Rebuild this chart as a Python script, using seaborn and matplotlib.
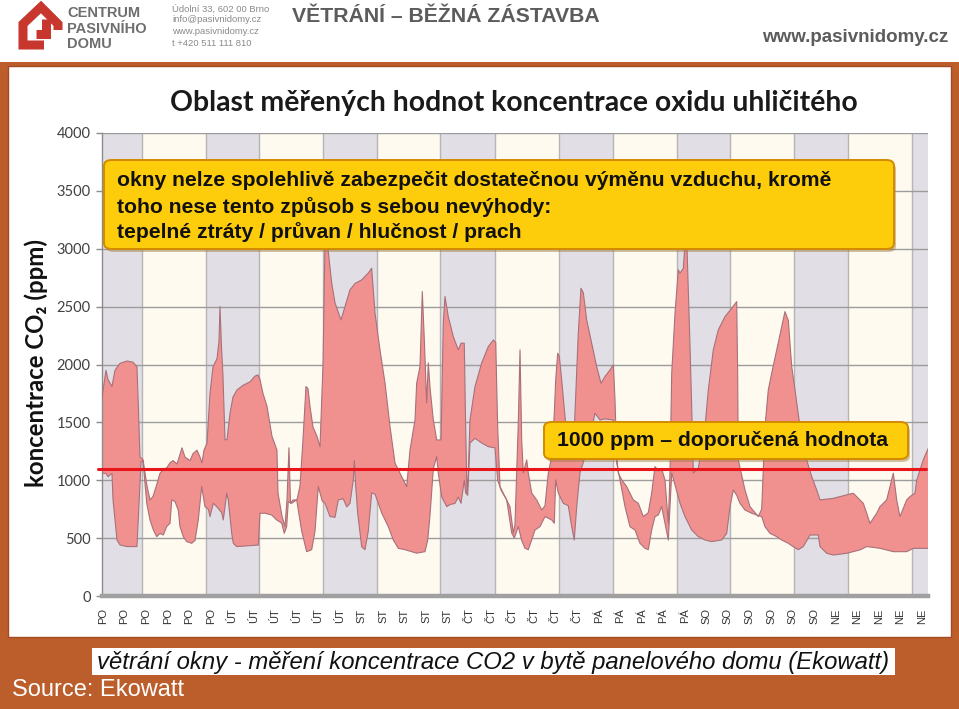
import numpy as np
import pandas as pd
import matplotlib
matplotlib.use("Agg")
import matplotlib.pyplot as plt
import seaborn as sns
from matplotlib.patches import FancyBboxPatch, Rectangle
from matplotlib.lines import Line2D

# ---------------- data ----------------
upper_hours = [0.0, 0.87, 1.28, 2.09, 2.70, 3.72, 5.14, 6.36, 7.17, 7.48, 7.78, 8.39, 9.21, 9.82,
               10.43, 11.24, 11.85, 12.46, 13.27, 13.88, 14.49, 15.31, 16.32, 16.93, 17.95, 18.56,
               19.37, 19.98, 20.38, 20.79, 21.40, 22.01, 22.62, 23.43, 23.84, 24.04, 24.35, 24.65,
               25.06, 25.47, 26.08, 26.69, 27.50, 28.72, 30.14, 31.16, 31.77, 32.17, 32.78, 33.59,
               34.61, 35.62, 35.83, 36.64, 37.25, 37.66, 38.06, 38.37, 38.88, 39.69, 40.30, 40.91,
               41.52, 41.93, 42.33, 42.94, 43.76, 44.37, 44.98, 45.38, 45.99, 46.75, 47.42, 48.64,
               49.45, 50.46, 51.48, 52.84, 54.18, 54.87, 55.55, 56.56, 57.58, 58.60, 59.61, 60.97,
               61.99, 62.66, 63.68, 64.02, 64.69, 65.16, 65.57, 66.05, 66.38, 66.73, 67.40, 68.09,
               68.96, 69.43, 69.77, 70.44, 71.46, 72.48, 73.03, 73.69, 73.98, 74.24, 74.51, 74.85,
               75.87, 77.23, 78.57, 79.59, 80.08, 80.48, 80.95, 81.97, 82.98, 83.65, 84.00, 84.67,
               85.02, 85.36, 85.69, 86.38, 86.70, 87.39, 88.41, 89.43, 90.10, 90.77, 91.46, 91.99,
               92.27, 92.68, 93.00, 93.49, 94.16, 94.83, 95.85, 96.19, 96.86, 97.41, 97.88, 98.57,
               99.59, 100.60, 101.48, 102.29, 103.31, 103.98, 104.32, 104.67, 104.99, 105.69,
               106.70, 108.04, 109.06, 110.08, 111.09, 111.78, 112.45, 113.12, 113.81, 114.48,
               115.16, 115.50, 115.85, 116.52, 117.19, 117.54, 118.21, 118.55, 118.86, 119.22,
               119.57, 119.91, 120.24, 121.25, 122.62, 123.29, 124.30, 125.32, 126.68, 128.04,
               129.06, 129.26, 129.38, 130.74, 131.76, 133.45, 134.14, 134.81, 135.48, 136.17,
               137.19, 138.20, 138.87, 139.55, 140.24, 140.91, 141.92, 143.28, 144.30, 145.32,
               145.99, 148.69, 151.41, 152.75, 154.12, 154.79, 155.48, 156.15, 157.51, 158.18,
               159.54, 160.21, 160.89, 161.58, 162.24, 163.61, 164.28, 165.29, 165.64, 166.31,
               166.98, 168.0]
upper_ppm = [1700, 1950, 1870, 1810, 1950, 2010, 2030, 2020, 1980, 1600, 1200, 1180, 950, 830,
             860, 970, 1060, 1090, 1110, 1150, 1170, 1140, 1280, 1200, 1170, 1230,
             1260, 1200, 1150, 1260, 1320, 1750, 1980, 2050, 2200, 2500, 2150, 1900,
             1350, 1350, 1580, 1720, 1780, 1820, 1850, 1900, 1910, 1870, 1750, 1640,
             1380, 1260, 890, 690, 600, 830, 1280, 800, 830, 830, 950, 1350,
             1810, 1790, 1640, 1460, 1380, 1290, 2000, 3050, 3000, 2702, 2532, 2385,
             2500, 2645, 2700, 2731, 2790, 2832, 2443, 2126, 1840, 1463, 1149, 1031,
             945, 1262, 1521, 1840, 1982, 2630, 2212, 1668, 2014, 1800, 1521, 1348,
             1348, 2357, 2587, 2414, 2241, 2126, 2184, 2184, 1435, 890, 1050, 1521,
             1809, 2014, 2155, 2212, 2190, 1463, 945, 858, 772, 544, 620, 1495,
             2126, 1348, 1063, 1176, 1063, 890, 830, 743, 780, 1063, 1204, 1579,
             1867, 2097, 2070, 1867, 1550, 1236, 1180, 1579, 2270, 2659, 2620, 2385,
             2184, 1982, 1838, 1896, 1953, 1997, 1700, 1204, 1063, 1003,
             945, 830, 801, 686, 720, 890, 1118, 1080, 1100, 1003,
             628, 1063, 1924, 2442, 2817, 2790, 2830, 3050, 3150, 2645,
             2155, 1636, 1063, 1100, 1463, 1780, 2126, 2299, 2414, 2486,
             2543, 1900, 1176, 916, 772, 686, 750, 1463, 1780, 1924,
             2126, 2327, 2457, 2380, 1982, 1780, 1464, 1176, 1032, 916,
             830, 844, 873, 888, 830, 801, 715, 628, 715, 772,
             830, 945, 1061, 830, 686, 830, 859, 888, 1000, 1089,
             1176, 1277]

lower_hours = [0.0, 0.87, 1.28, 2.09, 2.30, 2.70, 3.11, 3.72, 5.14, 7.17, 7.48, 7.99, 8.39, 9.15,
               9.82, 10.49, 11.18, 11.85, 12.52, 13.21, 13.88, 14.23, 14.90, 15.57, 15.91, 16.58,
               17.28, 18.29, 18.96, 19.63, 20.32, 20.65, 20.99, 21.67, 22.01, 22.68, 23.37, 24.39,
               24.71, 25.41, 25.73, 26.42, 26.75, 27.44, 31.83, 32.17, 33.19, 34.55, 35.57, 36.58,
               37.11, 37.60, 37.92, 38.62, 39.63, 40.65, 41.66, 42.68, 43.35, 44.02, 44.83, 45.38,
               46.40, 47.42, 48.09, 49.10, 49.79, 50.46, 51.14, 51.34, 51.62, 52.03, 52.84, 53.51,
               54.18, 54.87, 55.55, 56.91, 58.25, 59.27, 60.28, 61.64, 63.00, 64.02, 65.71, 66.26,
               66.73, 67.40, 68.09, 68.41, 69.10, 70.12, 70.79, 71.80, 72.48, 73.03, 73.69, 73.98,
               74.39, 74.85, 75.87, 77.23, 78.57, 79.93, 80.48, 81.15, 82.31, 83.33, 83.86, 84.67,
               85.36, 86.03, 86.70, 87.39, 88.06, 89.08, 90.10, 91.46, 91.99, 92.27, 92.80, 93.81,
               94.83, 95.52, 96.05, 96.54, 97.21, 98.23, 99.24, 100.26, 101.28, 102.29, 103.98,
               104.67, 105.34, 106.36, 107.37, 108.39, 109.40, 110.42, 111.09, 111.78, 112.45,
               113.12, 113.81, 114.48, 115.16, 115.85, 116.52, 117.54, 118.55, 119.91, 121.25,
               122.62, 123.98, 126.01, 127.03, 127.70, 128.37, 129.06, 129.73, 130.74, 132.10,
               134.14, 134.81, 135.83, 137.19, 138.20, 139.55, 140.56, 141.58, 142.59, 143.96,
               145.64, 145.99, 147.35, 148.69, 151.41, 154.12, 155.48, 158.18, 160.89, 163.61,
               164.97, 168.0]
lower_ppm = [1060, 1060, 1030, 1060, 830, 657, 484, 441, 427, 427, 700, 1160, 1170, 801,
             657, 571, 513, 540, 527, 600, 628, 830, 816, 740, 600, 513,
             470, 455, 480, 657, 945, 859, 772, 750, 686, 801, 772, 720,
             657, 888, 830, 542, 455, 427, 440, 715, 715, 700, 657, 630,
             542, 600, 815, 801, 830, 560, 383, 400, 560, 945, 820, 801,
             686, 680, 830, 840, 770, 800, 1003, 1170, 950, 715, 426, 400,
             560, 890, 880, 717, 599, 484, 412, 400, 383, 370, 383, 484,
             700, 1100, 1204, 1063, 858, 772, 790, 800, 855, 801, 1000, 890,
             870, 1322, 1362, 1322, 1290, 1280, 1003, 916, 830, 544, 501, 600,
             480, 412, 400, 484, 570, 600, 686, 657, 628, 1003, 890, 801,
             780, 599, 484, 772, 1063, 1204, 1377, 1579, 1521, 1530, 1521,
             1150, 1003, 772, 599, 570, 455, 412, 400, 570, 686,
             700, 772, 628, 484, 1063, 960, 801, 686, 570, 513,
             484, 470, 484, 541, 772, 916, 870, 801, 743, 715,
             686, 599, 541, 513, 484, 455, 426, 400, 427, 527,
             527, 427, 369, 354, 369, 398, 427, 412, 383, 383,
             412, 412]

day_labels = ["PO", "PO", "PO", "PO", "PO", "PO",
              "ÚT", "ÚT", "ÚT", "ÚT", "ÚT", "ÚT",
              "ST", "ST", "ST", "ST", "ST",
              "ČT", "ČT", "ČT", "ČT", "ČT", "ČT",
              "PÁ", "PÁ", "PÁ", "PÁ", "PÁ",
              "SO", "SO", "SO", "SO", "SO", "SO",
              "NE", "NE", "NE", "NE", "NE"]

night_start = [-3.0, 21.2, 45.0, 68.8, 92.9, 116.9, 140.7, 164.7]
night_end = [8.2, 32.0, 56.0, 79.9, 103.9, 127.7, 151.7, 175.0]

reference_ppm = 1095
y_ticks = [0, 500, 1000, 1500, 2000, 2500, 3000, 3500, 4000]

# ---------------- styling ----------------
sns.set_theme(style="white")
plt.rcParams["font.family"] = ["Liberation Sans", "DejaVu Sans"]

W, H = 959, 709
fig = plt.figure(figsize=(W / 100, H / 100), dpi=100)
fig.patch.set_facecolor("#bc5e2c")


def fx(x):
    return x / W


def fy(y):
    return 1 - y / H


# header (white) and chart panel (white)
fig.add_artist(Rectangle((0, fy(62)), 1, 62 / H, transform=fig.transFigure,
                         facecolor="white", edgecolor="none", zorder=-2))
fig.add_artist(Rectangle((fx(8), fy(637)), (951 - 8) / W, (637 - 66) / H,
                         transform=fig.transFigure, facecolor="white",
                         edgecolor="#a44a1e", lw=1.0, zorder=-1))

# ---------------- axes ----------------
ax = fig.add_axes([fx(101.7), fy(596), (928.3 - 101.7) / W, (596 - 133) / H])
ax.set_facecolor("#fefaf0")
ax.set_xlim(0, 168)
ax.set_ylim(0, 4000)

for s, e in zip(night_start, night_end):
    ax.axvspan(s, e, color="#e1dfe5", lw=0, zorder=0)
for b in sorted(set(night_start + night_end)):
    if 0 < b < 168:
        ax.axvline(b, color="#b5b5b5", lw=1.0, zorder=0.5)
for t in y_ticks[1:]:
    ax.axhline(t, color="#9c9c9c", lw=1.0, zorder=0.6)

uh = np.asarray(upper_hours)
up = np.asarray(upper_ppm)
lh = np.asarray(lower_hours)
lp = np.asarray(lower_ppm)
ax.fill(np.r_[uh, lh[::-1]], np.r_[up, lp[::-1]], color="#f0918f", lw=0, zorder=2)

edges = pd.concat([
    pd.DataFrame({"hours": uh, "ppm": up, "series": "max"}),
    pd.DataFrame({"hours": lh, "ppm": lp, "series": "min"}),
])
sns.lineplot(data=edges, x="hours", y="ppm", units="series", estimator=None,
             sort=False, color="#a8707a", lw=0.8, ax=ax, zorder=3, legend=False)

ax.axhline(reference_ppm, xmin=-0.004, xmax=0.997, color="#e8151b", lw=2.2,
           zorder=4, clip_on=False)

ax.set_xlabel("")
ax.set_ylabel("")
ax.set_yticks(y_ticks)
ax.set_yticklabels([str(t) for t in y_ticks], fontsize=10.5, color="#404040",
                   family=["Lato", "DejaVu Sans"])
tick_pos = np.linspace(0.26, 166.7, len(day_labels))
ax.set_xticks(tick_pos)
ax.set_xticklabels(day_labels, rotation=90, fontsize=8, color="#333333",
                   va="top", ha="center")
ax.tick_params(axis="y", length=4, width=1, color="#8c8c8c", pad=4, left=True)
ax.tick_params(axis="x", length=0, pad=9)
for side in ["top", "right"]:
    ax.spines[side].set_visible(False)
ax.spines["left"].set_color("#8c8c8c")
ax.spines["left"].set_linewidth(1.0)
ax.spines["bottom"].set_color("#a0a0a0")
ax.spines["bottom"].set_linewidth(3.2)
ax.grid(False)

# ---------------- chart texts ----------------
fig.text(fx(514), fy(103), "Oblast měřených hodnot koncentrace oxidu uhličitého",
         ha="center", va="center", fontsize=20.4, fontweight="bold", color="#1a1a1a",
         family=["Lato", "DejaVu Sans"])
fig.text(fx(36), fy(363), "koncentrace CO₂ (ppm)", rotation=90, ha="center",
         va="center", fontsize=17.3, fontweight="bold", color="#111111",
         family=["Lato", "DejaVu Sans"])


# yellow boxes
def yellow_box(x0, y0, x1, y1):
    fig.add_artist(FancyBboxPatch((fx(x0) + 2 / W, fy(y1) - 3 / H), (x1 - x0) / W, (y1 - y0) / H,
                                  boxstyle="round,pad=0,rounding_size=0.008",
                                  transform=fig.transFigure, facecolor="#9a7a40",
                                  edgecolor="none", alpha=0.45, zorder=5))
    fig.add_artist(FancyBboxPatch((fx(x0), fy(y1)), (x1 - x0) / W, (y1 - y0) / H,
                                  boxstyle="round,pad=0,rounding_size=0.008",
                                  transform=fig.transFigure, facecolor="#fdcc0a",
                                  edgecolor="#d38a00", lw=1.4, zorder=6))


yellow_box(104, 160, 894, 249)
for txt, yy in [("okny nelze spolehlivě zabezpečit dostatečnou výměnu vzduchu, kromě", 181),
                ("toho nese tento způsob s sebou nevýhody:", 207),
                ("tepelné ztráty / průvan / hlučnost / prach", 232)]:
    fig.text(fx(117), fy(yy), txt, ha="left", va="center", fontsize=15.2,
             fontweight="bold", color="#111111", zorder=7)

yellow_box(544, 422, 908, 459)
fig.text(fx(557), fy(441), "1000 ppm – doporučená hodnota", ha="left", va="center",
         fontsize=15.2, fontweight="bold", color="#111111", zorder=7)

# caption
fig.add_artist(Rectangle((fx(92), fy(675)), (895 - 92) / W, (675 - 648) / H,
                         transform=fig.transFigure, facecolor="white", edgecolor="none",
                         zorder=1))
fig.text(fx(493), fy(662), "větrání okny - měření koncentrace CO2 v bytě panelového domu (Ekowatt)",
         ha="center", va="center", fontsize=17.2, style="italic", color="#111111", zorder=2)
fig.text(fx(12), fy(690), "Source: Ekowatt", ha="left", va="center", fontsize=17,
         color="white")

# ---------------- header ----------------
logo_red = "#c8372d"
fig.add_artist(Line2D([fx(44), fx(23), fx(23), fx(41), fx(58), fx(58)],
                      [fy(45), fy(45), fy(24), fy(7), fy(24), fy(30)],
                      transform=fig.transFigure, color=logo_red, lw=6.5,
                      solid_joinstyle="miter", solid_capstyle="butt"))
fig.add_artist(Line2D([fx(46), fx(46), fx(36)], [fy(19), fy(34), fy(34)],
                      transform=fig.transFigure, color=logo_red, lw=6.5,
                      solid_joinstyle="miter", solid_capstyle="butt"))
for txt, yy in [("CENTRUM", 13), ("PASIVNÍHO", 29), ("DOMU", 44)]:
    fig.text(fx(67), fy(yy), txt, ha="left", va="center", fontsize=10.5,
             fontweight="bold", color="#6e6e6e")
for txt, yy in [("Údolní 33, 602 00 Brno", 9), ("info@pasivnidomy.cz", 20),
                ("www.pasivnidomy.cz", 32), ("t +420 511 111 810", 43)]:
    fig.text(fx(172), fy(yy), txt, ha="left", va="center", fontsize=6.8, color="#8a8a8a")
fig.text(fx(292), fy(17), "VĚTRÁNÍ – BĚŽNÁ ZÁSTAVBA", ha="left", va="center",
         fontsize=15.3, fontweight="bold", color="#5c5c5c")
fig.text(fx(948), fy(38), "www.pasivnidomy.cz", ha="right", va="center",
         fontsize=13.5, fontweight="bold", color="#5c5c5c")

fig.savefig("out.png", dpi=100, facecolor=fig.get_facecolor())
